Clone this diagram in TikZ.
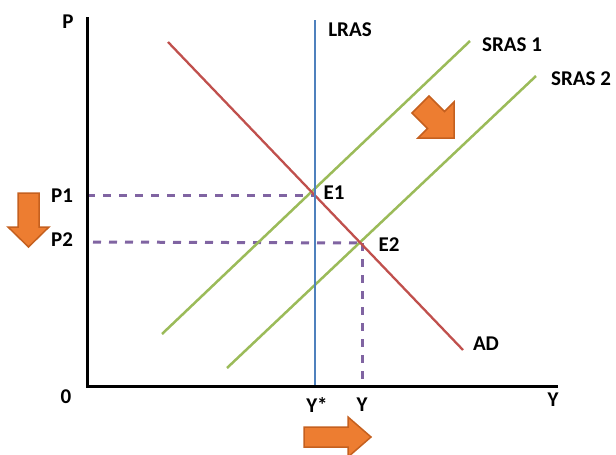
\documentclass[tikz,border=0pt]{standalone}
\usepackage{fontspec}
\setmainfont{Carlito}
\begin{document}
\begin{tikzpicture}[x=1pt,y=-1pt,
  lbl/.style={font=\fontsize{21}{24}\selectfont\bfseries, inner sep=0pt, anchor=center},
  axisline/.style={draw=black, line width=3pt},
  lrasline/.style={draw=lrasblue, line width=2.3pt},
  adline/.style={draw=adred, line width=2.3pt},
  srasline/.style={draw=srasgreen, line width=2.5pt},
  guide/.style={draw=guidepurple, line width=3pt, dash pattern=on 8pt off 8pt},
  bigarrow/.style={fill=arroworange, draw=arrowedge, line width=1.5pt, line join=miter}]
\definecolor{lrasblue}{HTML}{4F81BD}
\definecolor{adred}{HTML}{C0504D}
\definecolor{srasgreen}{HTML}{9BBB59}
\definecolor{guidepurple}{HTML}{8064A2}
\definecolor{arroworange}{HTML}{ED7D31}
\definecolor{arrowedge}{HTML}{C5601F}
\useasboundingbox (0,0) rectangle (616,455);

% coordinates
\coordinate (ytop) at (87,17);
\coordinate (origin) at (87,386);
\coordinate (xend) at (558,386);
\coordinate (lrastop) at (315,20);
\coordinate (lrasbot) at (315,386);
\coordinate (adstart) at (168,42);
\coordinate (adend) at (463,350);
\coordinate (s1a) at (162,334);
\coordinate (s1b) at (470,41);
\coordinate (s2a) at (227,368);
\coordinate (s2b) at (536,76);
\coordinate (e1) at (315,195);
\coordinate (e2) at (362,243);
\coordinate (p1axis) at (87,195);
\coordinate (p2axis) at (93,242);
\coordinate (yaxis) at (362,386);

% guides
\draw[guide] (p1axis) -- (e1);
\draw[guide] (p2axis) -- (e2);
\draw[guide] (e2) -- (yaxis);

% curves
\draw[srasline] (s1a) -- (s1b);
\draw[srasline] (s2a) -- (s2b);
\draw[adline] (adstart) -- (adend);
\draw[lrasline] (lrastop) -- (lrasbot);

% axes
\draw[axisline] (ytop) -- (origin) -- (xend);

% labels
\node[lbl] (lp) at (68,22) {P};
\node[lbl] (l0) at (66,397) {0};
\node[lbl] (lyax) at (553,400) {Y};
\node[lbl] (llras) at (350,30) {LRAS};
\node[lbl] (ls1) at (512,45) {SRAS 1};
\node[lbl] (ls2) at (581,79) {SRAS 2};
\node[lbl] (le1) at (334,193) {E1};
\node[lbl] (le2) at (389,245) {E2};
\node[lbl] (lad) at (486,344) {AD};
\node[lbl] (lp1) at (62,196) {P1};
\node[lbl] (lp2) at (62,240) {P2};
\node[lbl] (lystar) at (317,405) {Y*};
\node[lbl] (ly) at (362,405) {Y};

% orange arrows
\draw[bigarrow] (412,113) -- (429,96) -- (444.5,111.5) -- (454,102) -- (454,138) -- (418,138) -- (427.5,128.5) -- cycle;
\draw[bigarrow] (18,193) -- (39,193) -- (39,227) -- (49,227) -- (28.5,247) -- (8,227) -- (18,227) -- cycle;
\draw[bigarrow] (304,427) -- (348,427) -- (348,417) -- (371,437) -- (348,457) -- (348,447) -- (304,447) -- cycle;
\end{tikzpicture}
\end{document}
